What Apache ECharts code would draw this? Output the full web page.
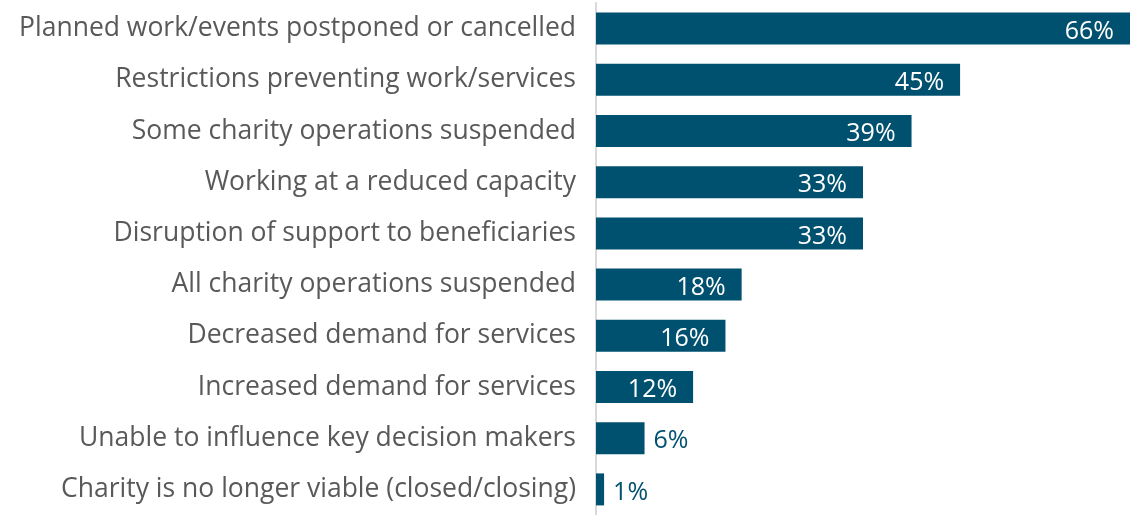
<!DOCTYPE html>
<html>
<head>
<meta charset="utf-8">
<script src="https://cdn.jsdelivr.net/npm/echarts@6/dist/echarts.min.js"></script>
<style>
  html, body { margin: 0; padding: 0; background: #fff; }
  #chart { width: 1130px; height: 515px; }
</style>
</head>
<body>
<div id="chart"></div>
<script>
var categories = [
  'Planned work/events postponed or cancelled',
  'Restrictions preventing work/services',
  'Some charity operations suspended',
  'Working at a reduced capacity',
  'Disruption of support to beneficiaries',
  'All charity operations suspended',
  'Decreased demand for services',
  'Increased demand for services',
  'Unable to influence key decision makers',
  'Charity is no longer viable (closed/closing)'
];
var values = [66, 45, 39, 33, 33, 18, 16, 12, 6, 1];

var barColor = '#00506f';

// small bars get their label outside
var seriesData = values.map(function (v) {
  var item = { value: v };
  if (v < 10) {
    item.label = { position: 'right', color: barColor, distance: 9 };
  }
  return item;
});

var myChart = echarts.init(document.getElementById('chart'));
myChart.setOption({
  animation: false,
  grid: { left: 596, right: 0, top: 3, height: 519 },
  xAxis: {
    type: 'value',
    min: 0,
    max: 66,
    show: false
  },
  yAxis: {
    type: 'category',
    data: categories,
    inverse: true,
    axisTick: { show: false },
    axisLine: { show: true, lineStyle: { color: '#d9d9d9', width: 2 } },
    axisLabel: {
      color: '#595959',
      fontFamily: 'Open Sans',
      fontSize: 26.5,
      margin: 20,
      padding: [6, 0, 0, 0]
    }
  },
  series: [{
    type: 'bar',
    data: seriesData,
    barWidth: 32,
    itemStyle: { color: barColor },
    label: {
      show: true,
      position: 'insideRight',
      distance: 16,
      color: '#fff',
      fontFamily: 'Open Sans',
      fontSize: 25,
      offset: [0, 3],
      formatter: '{c}%'
    }
  }]
});
</script>
</body>
</html>
